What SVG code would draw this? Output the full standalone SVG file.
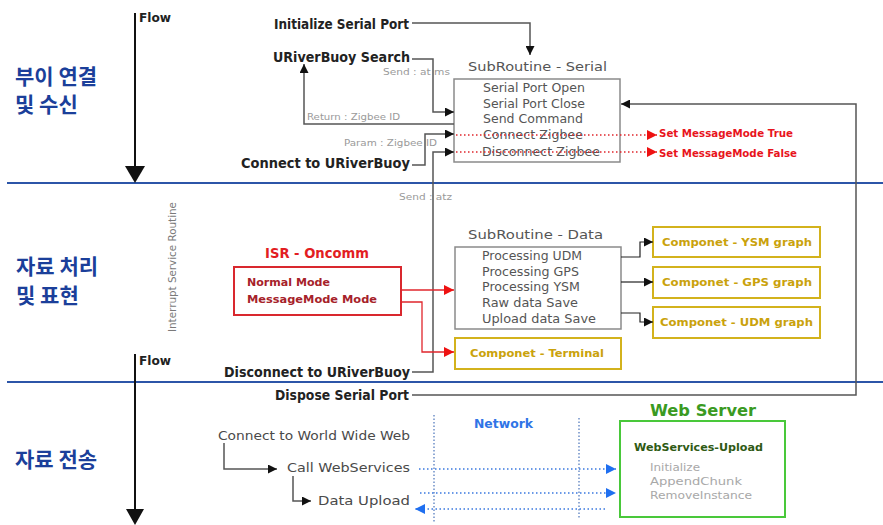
<svg xmlns="http://www.w3.org/2000/svg" width="883" height="525" viewBox="0 0 883 525">
  <style>
    .lbl { font-family: "DejaVu Sans", "Liberation Sans", sans-serif; }
    .main { font-size: 13.5px; font-weight: bold; fill: #222; }
    .flow { font-size: 12px; font-weight: bold; fill: #222; }
    .title { font-size: 12.5px; fill: #555; }
    .item { font-size: 11.5px; fill: #555; }
    .note { font-size: 8.5px; fill: #9a9a9a; }
    .red { font-size: 10.5px; font-weight: bold; fill: #e8141c; }
    .isr { font-size: 13.5px; font-weight: bold; fill: #e21d22; }
    .mode { font-size: 11px; font-weight: bold; fill: #a6222a; }
    .comp { font-size: 11px; font-weight: bold; fill: #caa20c; }
    .web { font-size: 12px; fill: #4a4a4a; }
    .ko { font-family: "Noto Sans CJK KR", sans-serif; font-size: 21px; font-weight: bold; fill: #1b3f9a; }
    .band { stroke: #2c55a8; stroke-width: 2; }
    .box { fill: #fff; stroke: #8a8a8a; stroke-width: 1.5; }
    .cbox { fill: #fff; stroke: #d3b21c; stroke-width: 2; }
    .wire { fill: none; stroke: #555; stroke-width: 1.5; }
    .dark { stroke: #222; stroke-width: 1.2; }
    .rwire { fill: none; stroke: #e0262c; stroke-width: 1.3; }
    .rdot { fill: none; stroke: #e0262c; stroke-width: 1.3; stroke-dasharray: 1.5 2.5; }
    .bdot { fill: none; stroke: #3a78e0; stroke-width: 1.5; stroke-dasharray: 1.5 2.5; }
    .vdot { fill: none; stroke: #6d8fc8; stroke-width: 1.5; stroke-dasharray: 1.5 2; }
  </style>
  <defs>
    <marker id="ah" viewBox="0 0 10 10" refX="10" refY="5" markerWidth="9" markerHeight="9" markerUnits="userSpaceOnUse" orient="auto">
      <path d="M0,0 L10,5 L0,10 z" fill="#111"/>
    </marker>
    <marker id="ahr" viewBox="0 0 10 10" refX="10" refY="5" markerWidth="10" markerHeight="10" markerUnits="userSpaceOnUse" orient="auto">
      <path d="M0,0 L10,5 L0,10 z" fill="#ee1111"/>
    </marker>
    <marker id="ahb" viewBox="0 0 10 10" refX="10" refY="5" markerWidth="10" markerHeight="10" markerUnits="userSpaceOnUse" orient="auto">
      <path d="M0,0 L10,5 L0,10 z" fill="#1f6ff0"/>
    </marker>
  </defs>

  <rect width="883" height="525" fill="#fff"/>

  <!-- section bands and their headings -->
  <g id="bands">
    <line class="band" x1="7" y1="183" x2="883" y2="183"/>
    <line class="band" x1="7" y1="382" x2="883" y2="382"/>
    <text class="ko" x="15" y="84">부이 연결</text>
    <text class="ko" x="15" y="112">및 수신</text>
    <text class="ko" x="16" y="274">자료 처리</text>
    <text class="ko" x="16" y="303">및 표현</text>
    <text class="ko" x="15" y="467">자료 전송</text>
  </g>

  <!-- flow arrows -->
  <g id="flow-top">
    <line x1="135" y1="13" x2="135" y2="168" stroke="#111" stroke-width="2"/>
    <polygon points="125,166 145,166 135,183" fill="#111"/>
    <text class="lbl flow" x="139" y="22" textLength="32" lengthAdjust="spacingAndGlyphs">Flow</text>
  </g>
  <g id="flow-bottom">
    <line x1="135" y1="354" x2="135" y2="510" stroke="#111" stroke-width="2"/>
    <polygon points="126,509 144,509 135,525" fill="#111"/>
    <text class="lbl flow" x="139" y="365" textLength="32" lengthAdjust="spacingAndGlyphs">Flow</text>
  </g>

  <g id="isr-caption">
    <text class="lbl" x="172" y="267" transform="rotate(-90 172 267)" text-anchor="middle" dominant-baseline="central" font-size="10.5" fill="#7a7a7a" textLength="130" lengthAdjust="spacingAndGlyphs">Interrupt Service Routine</text>
  </g>

  <!-- nodes -->
  <g id="init-serial">
    <text class="lbl main" x="274" y="29" textLength="135" lengthAdjust="spacingAndGlyphs">Initialize Serial Port</text>
  </g>
  <g id="search">
    <text class="lbl main" x="273" y="62" textLength="137" lengthAdjust="spacingAndGlyphs">URiverBuoy Search</text>
    <text class="lbl note" x="383" y="75" textLength="67" lengthAdjust="spacingAndGlyphs">Send : at ms</text>
    <text class="lbl note" x="307" y="120" textLength="93" lengthAdjust="spacingAndGlyphs">Return : Zigbee ID</text>
  </g>
  <g id="connect">
    <text class="lbl main" x="241" y="167.5" textLength="169" lengthAdjust="spacingAndGlyphs">Connect to URiverBuoy</text>
    <text class="lbl note" x="344" y="146" textLength="93" lengthAdjust="spacingAndGlyphs">Param : Zigbee ID</text>
  </g>
  <g id="disconnect">
    <text class="lbl main" x="224" y="377" textLength="186" lengthAdjust="spacingAndGlyphs">Disconnect to URiverBuoy</text>
    <text class="lbl note" x="399" y="200" textLength="53" lengthAdjust="spacingAndGlyphs">Send : atz</text>
  </g>
  <g id="dispose">
    <text class="lbl main" x="275" y="400" textLength="134" lengthAdjust="spacingAndGlyphs">Dispose Serial Port</text>
  </g>

  <g id="sub-serial">
    <text class="lbl title" x="468" y="70.5" textLength="139" lengthAdjust="spacingAndGlyphs">SubRoutine - Serial</text>
    <rect class="box" x="454" y="79" width="166" height="83"/>
    <text class="lbl item" x="483" y="92" textLength="102" lengthAdjust="spacingAndGlyphs">Serial Port Open</text>
    <text class="lbl item" x="483" y="107.5" textLength="102" lengthAdjust="spacingAndGlyphs">Serial Port Close</text>
    <text class="lbl item" x="483" y="123" textLength="100" lengthAdjust="spacingAndGlyphs">Send Command</text>
    <text class="lbl item" x="483" y="139" textLength="100" lengthAdjust="spacingAndGlyphs">Connect Zigbee</text>
    <text class="lbl item" x="482" y="156" textLength="118" lengthAdjust="spacingAndGlyphs">Disconnect Zigbee</text>
  </g>
  <g id="mode-true">
    <text class="lbl red" x="659" y="137" textLength="134" lengthAdjust="spacingAndGlyphs">Set MessageMode True</text>
  </g>
  <g id="mode-false">
    <text class="lbl red" x="659" y="157" textLength="138" lengthAdjust="spacingAndGlyphs">Set MessageMode False</text>
  </g>

  <g id="isr-oncomm">
    <text class="lbl isr" x="265" y="258" textLength="104" lengthAdjust="spacingAndGlyphs">ISR - Oncomm</text>
    <rect x="234" y="267" width="167" height="48" fill="#fff" stroke="#d9282e" stroke-width="2"/>
    <text class="lbl mode" x="247" y="285.5" textLength="83" lengthAdjust="spacingAndGlyphs">Normal Mode</text>
    <text class="lbl mode" x="247" y="303" textLength="130" lengthAdjust="spacingAndGlyphs">MessageMode Mode</text>
  </g>

  <g id="sub-data">
    <text class="lbl title" x="468" y="238.5" textLength="135" lengthAdjust="spacingAndGlyphs">SubRoutine - Data</text>
    <rect class="box" x="455" y="247" width="166" height="82"/>
    <text class="lbl item" x="482" y="260" textLength="100" lengthAdjust="spacingAndGlyphs">Processing UDM</text>
    <text class="lbl item" x="482" y="276" textLength="97" lengthAdjust="spacingAndGlyphs">Processing GPS</text>
    <text class="lbl item" x="482" y="291" textLength="98" lengthAdjust="spacingAndGlyphs">Processing YSM</text>
    <text class="lbl item" x="482" y="307" textLength="96" lengthAdjust="spacingAndGlyphs">Raw data Save</text>
    <text class="lbl item" x="482" y="323" textLength="114" lengthAdjust="spacingAndGlyphs">Upload data Save</text>
  </g>

  <g id="comp-terminal">
    <rect class="cbox" x="455" y="338" width="166" height="31"/>
    <text class="lbl comp" x="470" y="357" textLength="134" lengthAdjust="spacingAndGlyphs">Componet - Terminal</text>
  </g>
  <g id="comp-ysm">
    <rect class="cbox" x="653" y="227" width="167" height="30"/>
    <text class="lbl comp" x="662" y="246" textLength="150" lengthAdjust="spacingAndGlyphs">Componet - YSM graph</text>
  </g>
  <g id="comp-gps">
    <rect class="cbox" x="653" y="267" width="167" height="31"/>
    <text class="lbl comp" x="662" y="286" textLength="150" lengthAdjust="spacingAndGlyphs">Componet - GPS graph</text>
  </g>
  <g id="comp-udm">
    <rect class="cbox" x="653" y="307" width="167" height="31"/>
    <text class="lbl comp" x="660" y="326" textLength="153" lengthAdjust="spacingAndGlyphs">Componet - UDM graph</text>
  </g>

  <g id="connect-www">
    <text class="lbl web" x="218" y="440" textLength="192" lengthAdjust="spacingAndGlyphs">Connect to World Wide Web</text>
  </g>
  <g id="call-webservices">
    <text class="lbl web" x="287" y="472" textLength="123" lengthAdjust="spacingAndGlyphs">Call WebServices</text>
  </g>
  <g id="data-upload">
    <text class="lbl web" x="318" y="504.5" textLength="92" lengthAdjust="spacingAndGlyphs">Data Upload</text>
  </g>
  <g id="network">
    <text class="lbl" x="474" y="428" font-size="11.5" font-weight="bold" fill="#2f74e6" textLength="59" lengthAdjust="spacingAndGlyphs">Network</text>
  </g>
  <g id="web-server">
    <text class="lbl" x="650" y="416" font-size="16" font-weight="bold" fill="#3a9a22" textLength="106" lengthAdjust="spacingAndGlyphs">Web Server</text>
    <rect x="620" y="421" width="165" height="96" fill="#fff" stroke="#49c83a" stroke-width="2"/>
    <text class="lbl" x="634" y="451" font-size="11" font-weight="bold" fill="#2f5a14" textLength="129" lengthAdjust="spacingAndGlyphs">WebServices-Upload</text>
    <text class="lbl" x="650" y="471" font-size="10.5" fill="#a8a8a8" textLength="50" lengthAdjust="spacingAndGlyphs">Initialize</text>
    <text class="lbl" x="650" y="485" font-size="10.5" fill="#a8a8a8" textLength="92" lengthAdjust="spacingAndGlyphs">AppendChunk</text>
    <text class="lbl" x="650" y="499" font-size="10.5" fill="#a8a8a8" textLength="102" lengthAdjust="spacingAndGlyphs">RemoveInstance</text>
  </g>

  <!-- connectors, drawn last so they run over the small notes and the Zigbee items -->
  <g id="connectors">
    <!-- Initialize -> SubRoutine Serial -->
    <path class="wire" d="M412,23 H530 V55" marker-end="url(#ah)"/>
    <!-- Search -> Serial -->
    <path class="wire" d="M412,59 H433 V112 H454" marker-end="url(#ah)"/>
    <!-- Return -->
    <path class="wire" d="M454,124 H304 V64" marker-end="url(#ah)"/>
    <!-- Connect -->
    <path class="wire" d="M412,165 H425 V134 H454" marker-end="url(#ah)"/>
    <!-- Disconnect -->
    <path class="wire" d="M412,372 H433 V152 H454" marker-end="url(#ah)"/>
    <!-- Dispose -> Serial Port Close -->
    <path class="wire" d="M412,395 H856 V104 H621" marker-end="url(#ah)"/>
    <!-- message mode flags -->
    <path class="rdot" d="M456,135 H657" marker-end="url(#ahr)"/>
    <path class="rdot" d="M456,152 H657" marker-end="url(#ahr)"/>
    <!-- ISR outputs -->
    <path class="rwire" d="M401,290 H454" marker-end="url(#ahr)"/>
    <path class="rwire" d="M401,302 H422 V352 H454" marker-end="url(#ahr)"/>
    <!-- data -> graphs -->
    <path class="wire dark" d="M621,257 H640 V242 H653" marker-end="url(#ah)"/>
    <path class="wire dark" d="M621,282 H653" marker-end="url(#ah)"/>
    <path class="wire dark" d="M621,313 H640 V322 H653" marker-end="url(#ah)"/>
    <!-- web steps -->
    <path class="wire" d="M224,443 V469 H277" marker-end="url(#ah)"/>
    <path class="wire" d="M293,476 V501 H311" marker-end="url(#ah)"/>
    <!-- network traffic -->
    <line class="vdot" x1="434" y1="415" x2="434" y2="522"/>
    <line class="vdot" x1="579" y1="418" x2="579" y2="518"/>
    <path class="bdot" d="M419,469 H616" marker-end="url(#ahb)"/>
    <path class="bdot" d="M420,493 H616" marker-end="url(#ahb)"/>
    <path class="bdot" d="M605,509 H415" marker-end="url(#ahb)"/>
  </g>
</svg>
